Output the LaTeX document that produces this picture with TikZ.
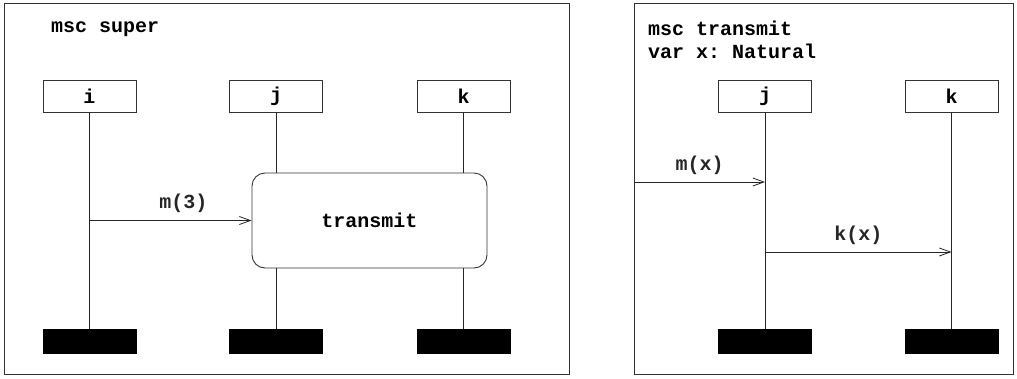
\documentclass[tikz,border=0pt]{standalone}
\usepackage{fontspec}
\setmonofont{Liberation Mono}
\usetikzlibrary{arrows.meta}
\begin{document}
\begin{tikzpicture}[x=1pt,y=-1pt,
  every node/.style={font=\fontsize{20}{24}\selectfont\ttfamily\bfseries},
  frame/.style={draw=black!80,line width=1pt,inner sep=0,anchor=north west},
  head/.style={draw=black!80,line width=0.9pt,minimum width=93pt,minimum height=32pt,inner sep=0},
  endbar/.style={fill=black,draw=black,minimum width=93pt,minimum height=24pt,inner sep=0},
  life/.style={line width=0.9pt,black!85},
  msg/.style={line width=0.9pt,black!85,-{Straight Barb[length=11pt,width=8pt,line width=0.8pt]}},
  lbl/.style={inner sep=0}]
\useasboundingbox (0,0) rectangle (1017,378);
% frames
\node[frame,minimum width=565pt,minimum height=371pt] (F1) at (4,3) {};
\node[frame,minimum width=379pt,minimum height=371pt] (F2) at (634,3) {};
\node[lbl,anchor=west] (t1) at (51,29) {msc super};
\node[lbl,anchor=west] (t2) at (648,28) {msc transmit};
\node[lbl,anchor=west] (t3) at (648,51) {var x: Natural};
% left panel
\node[head] (hi) at (89.5,96) {i};
\node[head] (hj) at (276,96) {j};
\node[head] (hk) at (463.5,96) {k};
\node[endbar] (ei) at (89.5,341) {};
\node[endbar] (ej) at (276,341) {};
\node[endbar] (ek) at (463.5,341) {};
\node[draw=black!80,line width=0.9pt,rounded corners=13pt,minimum width=235pt,minimum height=95pt,inner sep=0] (tr) at (369.5,220.5) {transmit};
\draw[life] (hi.south) -- (ei.north);
\draw[life] (hj.south) -- (hj.south |- tr.north);
\draw[life] (hk.south) -- (hk.south |- tr.north);
\draw[life] (hj.south |- tr.south) -- (ej.north);
\draw[life] (hk.south |- tr.south) -- (ek.north);
\coordinate (m3s) at (hi.south |- tr.west);
\draw[msg] (m3s) -- node[lbl,above=7pt,pos=0.58] (lm3) {m(3)} (tr.west);
% right panel
\node[head] (rj) at (765,96) {j};
\node[head] (rk) at (951.5,96) {k};
\node[endbar] (rej) at (765,341) {};
\node[endbar] (rek) at (951.5,341) {};
\draw[life] (rj.south) -- (rej.north);
\draw[life] (rk.south) -- (rek.north);
\coordinate (mxs) at (F2.west |- 0,182);
\coordinate (mxe) at (rj.south |- 0,182);
\draw[msg] (mxs) -- node[lbl,above=7pt] (lmx) {m(x)} (mxe);
\coordinate (kxs) at (rj.south |- 0,252);
\coordinate (kxe) at (rk.south |- 0,252);
\draw[msg] (kxs) -- node[lbl,above=7pt] (lkx) {k(x)} (kxe);
\end{tikzpicture}
\end{document}
